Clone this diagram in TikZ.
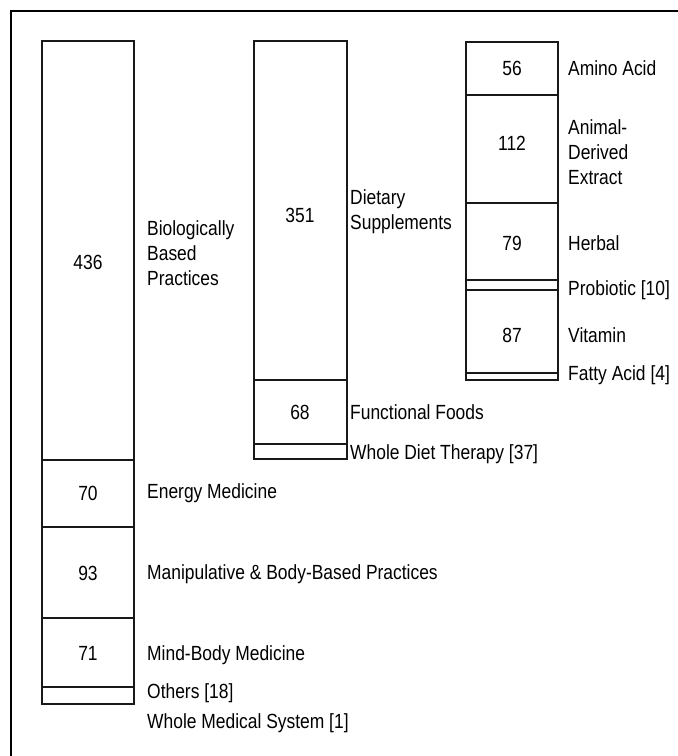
\documentclass[tikz,border=0pt]{standalone}
\usepackage{fontspec}
\setmainfont{Liberation Sans}[FakeStretch=0.85]
\tikzset{
  frame/.style={draw=black,line width=2pt},
  seg/.style={draw=black!90,line width=1.3pt},
  count/.style={font=\fontsize{20.5}{25}\selectfont,inner sep=0pt},
  cat/.style={font=\fontsize{20.5}{25}\selectfont,anchor=west,align=left,inner sep=0pt}
}

\begin{document}
\begin{tikzpicture}[x=1pt,y=-1pt]
  \useasboundingbox (0,0) rectangle (678,756);
  \clip (0,0) rectangle (678,756);
  \draw[frame] (10.5,11) rectangle (700,780);

  % left column
  \foreach \ya/\yb in {41/460,460/527,527/618,618/687,687/704}
    \draw[seg] (42,\ya) rectangle (134,\yb);
  \node[count] (nBio) at (88,262) {436};
  \node[count] (nEnergy) at (88,493) {70};
  \node[count] (nManip) at (88,573) {93};
  \node[count] (nMind) at (88,653) {71};
  \node[cat] (lBio) at (147,253) {Biologically\\Based\\Practices};
  \node[cat] (lEnergy) at (147,493) {Energy Medicine};
  \node[cat] (lManip) at (147,574) {Manipulative \& Body-Based Practices};
  \node[cat] (lMind) at (147,655) {Mind-Body Medicine};
  \node[cat] (lOthers) at (147,693) {Others [18]};
  \node[cat] (lWhole) at (147,723) {Whole Medical System [1]};

  % middle column
  \foreach \ya/\yb in {41/380,380/444,444/459}
    \draw[seg] (254,\ya) rectangle (347,\yb);
  \node[count] (nDiet) at (300,215) {351};
  \node[count] (nFunc) at (300,412) {68};
  \node[cat] (lDiet) at (350,212) {Dietary\\Supplements};
  \node[cat] (lFunc) at (350,412) {Functional Foods};
  \node[cat] (lWDiet) at (350,454) {Whole Diet Therapy [37]};

  % right column
  \foreach \ya/\yb in {42/95,95/203,203/280,280/290,290/373,373/380}
    \draw[seg] (466,\ya) rectangle (558,\yb);
  \node[count] (nAmino) at (512,68) {56};
  \node[count] (nAnimal) at (512,143) {112};
  \node[count] (nHerbal) at (512,243) {79};
  \node[count] (nVitamin) at (512,335) {87};
  \node[cat] (lAmino) at (568,68) {Amino Acid};
  \node[cat] (lAnimal) at (568,152) {Animal-\\Derived\\Extract};
  \node[cat] (lHerbal) at (568,243) {Herbal};
  \node[cat] (lProb) at (568,290) {Probiotic [10]};
  \node[cat] (lVitamin) at (568,335) {Vitamin};
  \node[cat] (lFatty) at (568,375) {Fatty Acid [4]};
\end{tikzpicture}
\end{document}
